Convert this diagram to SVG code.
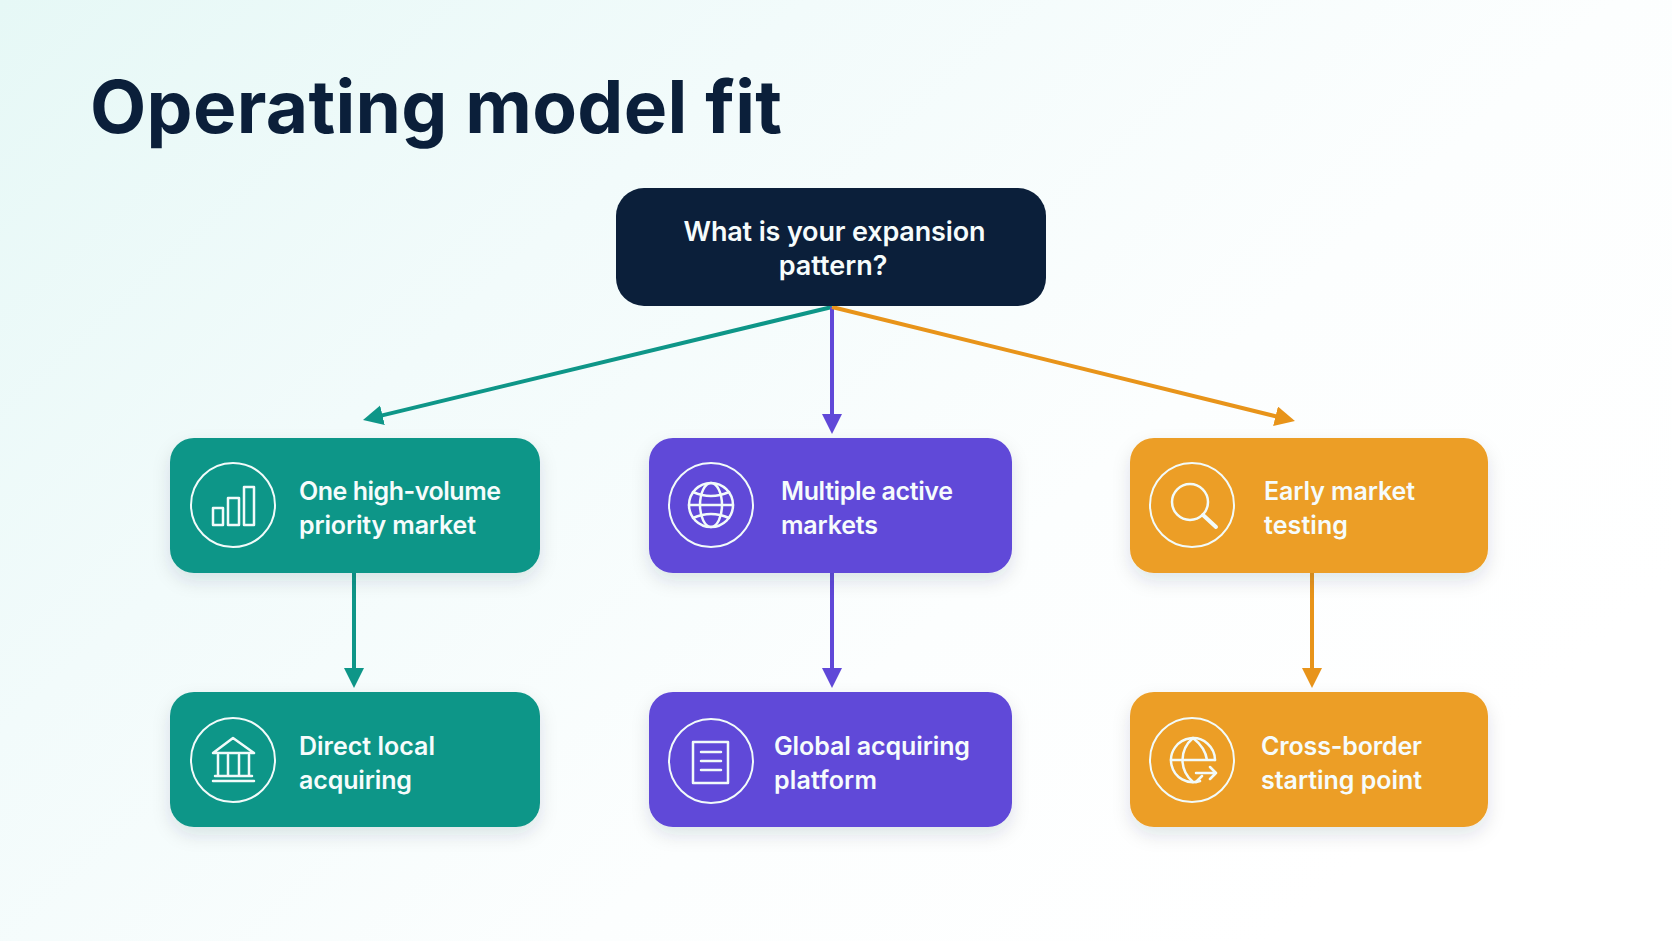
<svg xmlns="http://www.w3.org/2000/svg" width="1672" height="941" viewBox="0 0 1672 941">
<style>
.t{font-family:Inter,"Liberation Sans",sans-serif;font-weight:600;font-size:25px;fill:#f6fcfc}
.r{font-size:27px}
.i{fill:none;stroke:#f2fbfa;stroke-width:2}
.ib{fill:none;stroke:#f2fbfa;stroke-width:2.5;stroke-linejoin:round;stroke-linecap:round}
.c{fill:none;stroke-width:4}
</style>
<defs>
<linearGradient id="bg" x1="0" y1="0" x2="1" y2="0.62">
<stop offset="0" stop-color="#e6f8f6"/><stop offset="0.35" stop-color="#f2fbfb"/><stop offset="0.7" stop-color="#fcfefe"/><stop offset="1" stop-color="#ffffff"/>
</linearGradient>
<filter id="s" x="-15%" y="-25%" width="130%" height="160%"><feDropShadow dx="0" dy="8" stdDeviation="9" flood-color="#1a2a4a" flood-opacity="0.12"/></filter>
<marker id="mt" markerUnits="userSpaceOnUse" markerWidth="22" markerHeight="22" refX="12" refY="10" orient="auto"><path d="M0 0L20 10L0 20Z" fill="#0e9688"/></marker>
<marker id="mp" markerUnits="userSpaceOnUse" markerWidth="22" markerHeight="22" refX="12" refY="10" orient="auto"><path d="M0 0L20 10L0 20Z" fill="#6048d8"/></marker>
<marker id="mo" markerUnits="userSpaceOnUse" markerWidth="22" markerHeight="22" refX="12" refY="10" orient="auto"><path d="M0 0L20 10L0 20Z" fill="#e8941a"/></marker>
</defs>
<rect width="1672" height="941" fill="url(#bg)"/>
<text x="90" y="133" font-family="Inter,'Liberation Sans',sans-serif" font-weight="700" font-size="73" fill="#0b1f3a" textLength="692" lengthAdjust="spacing">Operating model fit</text>
<g id="connectors">
<path class="c" stroke="#0e9688" marker-end="url(#mt)" d="M832 307L370.8 418.1"/>
<path class="c" stroke="#6048d8" marker-end="url(#mp)" d="M832 307V426"/>
<path class="c" stroke="#e8941a" marker-end="url(#mo)" d="M832 307L1287.2 419.1"/>
<path class="c" stroke="#0e9688" marker-end="url(#mt)" d="M354 573V680"/>
<path class="c" stroke="#6048d8" marker-end="url(#mp)" d="M832 573V680"/>
<path class="c" stroke="#e8941a" marker-end="url(#mo)" d="M1312 573V680"/>
</g>
<g id="root">
<rect x="616" y="188" width="430" height="118" rx="28" fill="#0b1f3a"/>
<text class="t r" x="834.5" y="241" text-anchor="middle" textLength="302">What is your expansion</text>
<text class="t r" x="833" y="275" text-anchor="middle">pattern?</text>
</g>
<g id="n1">
<rect x="170" y="438" width="370" height="135" rx="24" fill="#0e9688" filter="url(#s)"/>
<circle class="i" cx="233" cy="505" r="42"/>
<path class="ib" d="M213 508h10v17h-10zM228 498h11v27h-11zM244 487h10v38h-10z"/>
<text class="t" x="299" y="500" textLength="202">One high-volume</text>
<text class="t" x="299" y="534" textLength="177">priority market</text>
</g>
<g id="n2">
<rect x="649" y="438" width="363" height="135" rx="24" fill="#6048d8" filter="url(#s)"/>
<circle class="i" cx="711" cy="505" r="42"/>
<g class="ib"><circle cx="711" cy="505" r="22"/><ellipse cx="711" cy="505" rx="11" ry="22"/><path d="M689 505h44M693 492q18 8 36 0M693 518q18-8 36 0"/></g>
<text class="t" x="781" y="500" textLength="172">Multiple active</text>
<text class="t" x="781" y="534" textLength="97">markets</text>
</g>
<g id="n3">
<rect x="1130" y="438" width="358" height="135" rx="24" fill="#ec9e26" filter="url(#s)"/>
<circle class="i" cx="1192" cy="505" r="42"/>
<g class="ib"><circle cx="1190" cy="502" r="18"/><path d="M1203 515l13 12" stroke-width="4"/></g>
<text class="t" x="1264" y="500" textLength="151">Early market</text>
<text class="t" x="1264" y="534" textLength="84">testing</text>
</g>
<g id="n4">
<rect x="170" y="692" width="370" height="135" rx="24" fill="#0e9688" filter="url(#s)"/>
<circle class="i" cx="233" cy="760" r="42"/>
<path class="ib" d="M213 753L233 738L254 753ZM218 755v20M228 755v20M239 755v20M249 755v20M215 776h37M213 781h41"/>
<text class="t" x="299" y="755" textLength="136">Direct local</text>
<text class="t" x="299" y="789" textLength="113">acquiring</text>
</g>
<g id="n5">
<rect x="649" y="692" width="363" height="135" rx="24" fill="#6048d8" filter="url(#s)"/>
<circle class="i" cx="711" cy="761" r="42"/>
<path class="ib" d="M693 742h35v41h-35zM701 752h20M701 761h20M701 770h20"/>
<text class="t" x="774" y="755" textLength="196">Global acquiring</text>
<text class="t" x="774" y="789" textLength="103">platform</text>
</g>
<g id="n6">
<rect x="1130" y="692" width="358" height="135" rx="24" fill="#ec9e26" filter="url(#s)"/>
<circle class="i" cx="1192" cy="760" r="42"/>
<g class="ib"><path d="M1215 760a22 22 0 1 0-15 21"/><path d="M1193 738c-14 12-14 32 0 44M1193 738c9 7 13 15 14 22M1171 760h44M1196 773h20M1210 767l6 6-6 6M1196 782l6-6"/></g>
<text class="t" x="1261" y="755" textLength="161">Cross-border</text>
<text class="t" x="1261" y="789" textLength="161">starting point</text>
</g>
</svg>
